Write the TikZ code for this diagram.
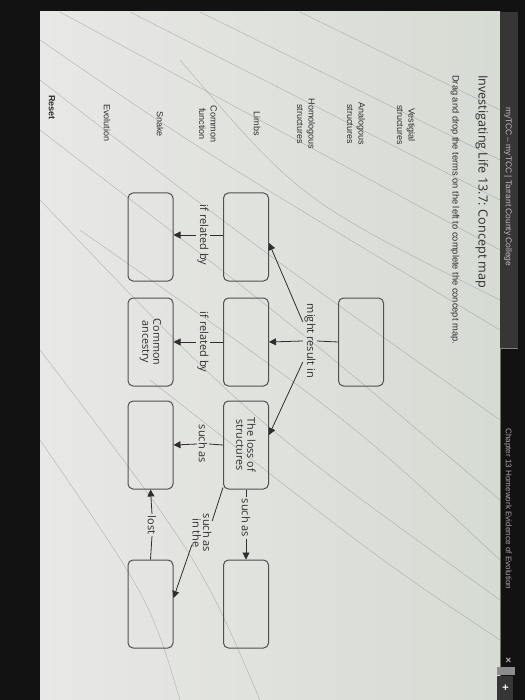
\documentclass[tikz,border=0pt]{standalone}
\usepackage{fontspec}
\setmainfont{Liberation Sans}
\newfontfamily\osans{Open Sans}
\usetikzlibrary{arrows.meta}
\definecolor{scrtop}{HTML}{E8E8E6}
\definecolor{scrbot}{HTML}{D6DBD3}
\definecolor{ink}{HTML}{2E2E2E}
\definecolor{boxline}{HTML}{505050}
\definecolor{tabgray}{HTML}{363636}
\tikzset{
  mapbox/.style={draw=boxline, line width=1pt, rounded corners=5pt, minimum width=88pt, minimum height=45pt, inner sep=0pt, align=center, font=\osans\fontsize{10.8}{11}\selectfont, text=ink},
  maplabel/.style={font=\osans\fontsize{11}{10.5}\selectfont, text=ink, inner sep=1.5pt, align=center},
  term/.style={font=\fontsize{9}{11.5}\selectfont, text=ink, align=center, inner sep=0pt},
  conn/.style={draw=ink, line width=0.8pt},
  arr/.style={conn, -{Triangle[length=7pt,width=7pt]}},
  crack/.style={draw=black!55, line width=0.35pt, opacity=0.5}
}
\begin{document}
\begin{tikzpicture}
\begin{scope}[rotate=-90,x=1pt,y=1pt,transform shape]
\useasboundingbox (0,0) rectangle (700,525);
\fill[black!93] (0,0) rectangle (700,525);
% screen
\shade[left color=scrtop, right color=scrbot] (12,40) rectangle (700,500);
% header tab
\fill[tabgray] (12,500) -- (348,500) -- (348,518) -- (12,518) -- cycle;
\draw[black!55, line width=0.6pt] (348,500) -- (700,500);
\draw[black!50, line width=0.6pt] (348,500) -- (348,518);
\fill[black!45] (667,497) rectangle (675,515);
\fill[tabgray] (676,497) rectangle (700,513);
\node[text=white, font=\bfseries\fontsize{11}{11}\selectfont, inner sep=0pt] (plus) at (688,505) {+};
\node[text=black!30, font=\bfseries\fontsize{10}{10}\selectfont, inner sep=0pt] (close) at (660,508) {×};
\node[anchor=west, text=black!25, font=\fontsize{8.4}{9}\selectfont, inner sep=0pt] (tabtxt) at (107,508) {myTCC – myTCC | Tarrant County College};
\node[anchor=west, text=black!35, font=\fontsize{8.1}{9}\selectfont, inner sep=0pt] (chap) at (428,508) {Chapter 13 Homework Evidence of Evolution};
% cracks
\begin{scope}
\clip (12,40) rectangle (700,500);
\draw[crack] (12,60) -- (250,500);
\draw[crack] (12,130) -- (200,500);
\draw[crack] (12,200) -- (160,500);
\draw[crack] (12,300) -- (110,500);
\draw[crack] (40,40) .. controls (150,200) .. (330,500);
\draw[crack] (80,40) .. controls (250,260) .. (420,500);
\draw[crack] (130,40) .. controls (330,300) .. (500,500);
\draw[crack] (230,80) .. controls (420,350) .. (560,500);
\draw[crack] (350,40) .. controls (560,200) .. (700,260);
\draw[crack] (380,150) .. controls (560,380) .. (640,500);
\draw[crack] (60,180) .. controls (200,300) .. (300,500);
\draw[crack] (440,40) .. controls (600,150) .. (700,180);
\draw[crack] (200,40) .. controls (420,250) .. (600,500);
\end{scope}
% title and instructions
\node[anchor=west, font=\osans\fontsize{12.6}{13}\selectfont, text=ink, inner sep=0pt] (title) at (75,482) {Investigating Life 13.7: Concept map};
\node[anchor=west, font=\fontsize{9.3}{10}\selectfont, text=ink, inner sep=0pt] (instr) at (75,455) {Drag and drop the terms on the left to complete the concept map.};
% terms
\node[term] (t1) at (125,406) {Vestigial\\structures};
\node[term] (t2) at (124,356) {Analogous\\structures};
\node[term] (t3) at (124,306) {Homologous\\structures};
\node[term] (t4) at (124,257) {Limbs};
\node[term] (t5) at (124,208) {Common\\function};
\node[term] (t6) at (124,160) {Snake};
\node[term] (t7) at (123,107) {Evolution};
\node[term, anchor=west, font=\bfseries\fontsize{9}{10}\selectfont] (reset) at (95,52) {Reset};
% boxes
\node[mapbox] (C2) at (342,361) {};
\node[mapbox] (B1) at (237,246) {};
\node[mapbox] (B2) at (342,246) {};
\node[mapbox] (B3) at (445,246) {The loss of\\structures};
\node[mapbox] (B4) at (604,246) {};
\node[mapbox] (A1) at (237,150.5) {};
\node[mapbox] (A2) at (342,150.5) {Common\\ancestry};
\node[mapbox] (A3) at (445,150.5) {};
\node[mapbox] (A4) at (604,150.5) {};
% labels
\node[maplabel] (lmr) at (341,310) {might result in};
\node[maplabel] (l1) at (235,203) {if related by};
\node[maplabel] (l2) at (342,203) {if related by};
\node[maplabel] (l3) at (444,203) {such as};
\node[maplabel] (l4) at (518,246) {such as};
\node[maplabel] (l5) at (533,202) {such as\\in the};
\node[maplabel] (l6) at (525,152) {lost};
% connectors
\draw[conn] (C2.south) -- (lmr.north);
\draw[arr] (lmr.south) -- (B2.north);
\draw[arr] ([xshift=-19pt]lmr.south) -- ([xshift=6pt]B1.north);
\draw[arr] ([xshift=21pt]lmr.south) -- ([xshift=-10pt]B3.north);
\draw[conn] ([xshift=-2pt]B1.south) -- (l1.north);
\draw[arr] (l1.south) -- ([xshift=-2pt]A1.north);
\draw[conn] (B2.south) -- (l2.north);
\draw[arr] (l2.south) -- (A2.north);
\draw[conn] (B3.south) -- (l3.north);
\draw[arr] (l3.south) -- (A3.north);
\draw[conn] (B3.east) -- (l4.west);
\draw[arr] (l4.east) -- (B4.west);
\draw[conn] ([xshift=-2pt]B3.south east) -- ([xshift=-12pt,yshift=-1pt]l5.north);
\draw[arr] ([xshift=12pt,yshift=1pt]l5.south) -- ([xshift=-6pt]A4.north);
\draw[conn] (A4.west) -- (l6.east);
\draw[arr] (l6.west) -- (A3.east);
\end{scope}
\end{tikzpicture}
\end{document}
